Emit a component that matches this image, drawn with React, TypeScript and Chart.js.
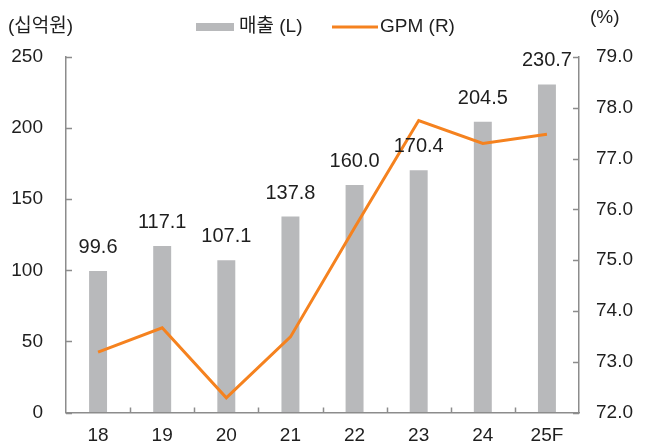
import React, { useEffect, useRef } from "react";
import { Chart, registerables } from "chart.js";

Chart.register(...registerables);

const categories = ["18", "19", "20", "21", "22", "23", "24", "25F"];
const salesValues = [99.6, 117.1, 107.1, 137.8, 160.0, 170.4, 204.5, 230.7];
const gpmValues = [73.19, 73.67, 72.29, 73.49, 75.64, 77.75, 77.3, 77.48];
const leftTicks = [0, 50, 100, 150, 200, 250];
const rightTicks = [72, 73, 74, 75, 76, 77, 78, 79];
const salesLabel = "매출 (L)";
const gpmLabel = "GPM (R)";
const leftUnit = "(십억원)";
const rightUnit = "(%)";

const FONT = "'Liberation Sans', 'Noto Sans CJK KR', sans-serif";
const BAR_COLOR = "#b8b9bb";
const LINE_COLOR = "#f5821f";
const AXIS_COLOR = "#8c8c8c";
const TEXT_COLOR = "#1e1e1e";

const decorPlugin = {
  id: "decor",
  afterDatasetsDraw(chart: any) {
    const ctx = chart.ctx;
    const area = chart.chartArea;
    const x = chart.scales.x;
    const yL = chart.scales.yL;
    const yR = chart.scales.yR;
    ctx.save();
    // inward ticks
    ctx.strokeStyle = AXIS_COLOR;
    ctx.lineWidth = 1.5;
    ctx.beginPath();
    leftTicks.forEach((v) => {
      const py = Math.round(yL.getPixelForValue(v)) + 0.5;
      ctx.moveTo(area.left, py);
      ctx.lineTo(area.left + 6, py);
    });
    rightTicks.forEach((v) => {
      const py = Math.round(yR.getPixelForValue(v)) + 0.5;
      ctx.moveTo(area.right, py);
      ctx.lineTo(area.right - 6, py);
    });
    const n = categories.length;
    for (let i = 1; i < n; i++) {
      const px = Math.round(area.left + ((area.right - area.left) * i) / n) + 0.5;
      ctx.moveTo(px, area.bottom);
      ctx.lineTo(px, area.bottom - 5);
    }
    ctx.stroke();

    // bar value labels
    ctx.fillStyle = TEXT_COLOR;
    ctx.font = `20px ${FONT}`;
    ctx.textAlign = "center";
    ctx.textBaseline = "alphabetic";
    const meta = chart.getDatasetMeta(0);
    meta.data.forEach((bar: any, i: number) => {
      ctx.fillText(salesValues[i].toFixed(1), bar.x, bar.y - 18);
    });

    // unit labels
    ctx.font = `19px ${FONT}`;
    ctx.textBaseline = "middle";
    ctx.textAlign = "left";
    ctx.fillText(leftUnit, 8, 27);
    ctx.fillText(rightUnit, 590, 18);

    // legend
    const ly = 27;
    ctx.fillStyle = BAR_COLOR;
    ctx.fillRect(196, ly - 4, 38, 8);
    ctx.fillStyle = TEXT_COLOR;
    ctx.fillText(salesLabel, 239, ly);
    ctx.strokeStyle = LINE_COLOR;
    ctx.lineWidth = 3;
    ctx.beginPath();
    ctx.moveTo(332, ly);
    ctx.lineTo(378, ly);
    ctx.stroke();
    ctx.fillText(gpmLabel, 380, ly);
    ctx.restore();
  },
};

export default function App() {
  const ref = useRef<HTMLCanvasElement | null>(null);
  useEffect(() => {
    if (!ref.current) return;
    const chart = new Chart(ref.current, {
      type: "bar",
      data: {
        labels: categories,
        datasets: [
          {
            type: "bar",
            label: salesLabel,
            data: salesValues,
            backgroundColor: BAR_COLOR,
            yAxisID: "yL",
            barPercentage: 0.28,
            categoryPercentage: 1,
            order: 1,
          },
          {
            type: "line",
            label: gpmLabel,
            data: gpmValues,
            borderColor: LINE_COLOR,
            backgroundColor: LINE_COLOR,
            borderWidth: 3,
            pointRadius: 0,
            tension: 0,
            yAxisID: "yR",
            order: 0,
          } as any,
        ],
      },
      options: {
        animation: false,
        responsive: false,
        maintainAspectRatio: false,
        layout: { padding: { top: 57, left: 0, right: 0, bottom: 0 } },
        plugins: {
          legend: { display: false },
          tooltip: { enabled: false },
        },
        scales: {
          x: {
            grid: { display: false, drawTicks: false },
            border: { display: true, color: AXIS_COLOR, width: 1.5 },
            ticks: { color: TEXT_COLOR, font: { family: FONT, size: 19 }, padding: 12 },
            afterFit: (s: any) => {
              s.height = 34;
            },
          },
          yL: {
            position: "left",
            min: 0,
            max: 250,
            afterBuildTicks: (s: any) => {
              s.ticks = leftTicks.map((v) => ({ value: v }));
            },
            grid: { drawOnChartArea: false, drawTicks: false },
            border: { display: true, color: AXIS_COLOR, width: 1.5 },
            ticks: { color: TEXT_COLOR, font: { family: FONT, size: 19 }, padding: 23 },
            afterFit: (s: any) => {
              s.width = 66;
            },
          },
          yR: {
            position: "right",
            min: 72,
            max: 79,
            afterBuildTicks: (s: any) => {
              s.ticks = rightTicks.map((v) => ({ value: v }));
            },
            grid: { drawOnChartArea: false, drawTicks: false },
            border: { display: true, color: AXIS_COLOR, width: 1.5 },
            ticks: {
              color: TEXT_COLOR,
              font: { family: FONT, size: 19 },
              padding: 17,
              callback: (v: any) => Number(v).toFixed(1),
            },
            afterFit: (s: any) => {
              s.width = 73;
            },
          },
        },
      },
      plugins: [decorPlugin],
    });
    return () => chart.destroy();
  }, []);
  return (
    <div style={{ position: "fixed", left: 0, top: 0, width: 652, height: 447, background: "#fff" }}>
      <canvas ref={ref} width={652} height={447} style={{ width: 652, height: 447, display: "block" }} />
    </div>
  );
}
